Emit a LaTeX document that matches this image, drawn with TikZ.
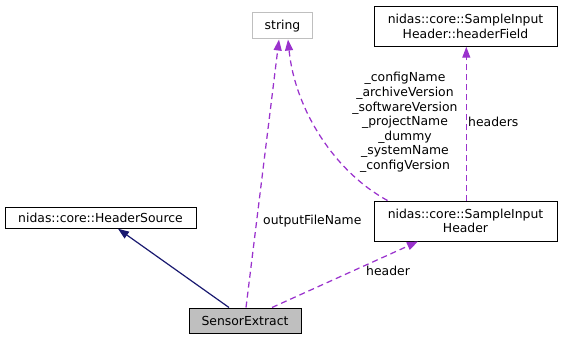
\documentclass[tikz,border=0pt]{standalone}
\usepackage{fontspec}
\setmainfont{DejaVu Sans}
\usetikzlibrary{arrows.meta}
\definecolor{edgepurple}{HTML}{9A32CD}
\definecolor{edgenavy}{HTML}{191970}
\definecolor{boxgray}{HTML}{BFBFBF}
\begin{document}
\begin{tikzpicture}[x=1pt,y=-1pt,
  font=\fontsize{12.4pt}{14.6pt}\selectfont,
  classbox/.style={draw=black,line width=1pt,inner sep=0pt,align=center},
  usage/.style={draw=edgepurple,line width=1.25pt,dash pattern=on 6pt off 4pt,
    -{Triangle[length=11pt,width=8pt]},fill=none},
  inherit/.style={draw=edgenavy,line width=1.2pt,
    -{Triangle[length=11pt,width=8pt]}},
  lbl/.style={inner sep=0pt,align=center}]
\useasboundingbox (0,0) rectangle (561,339);

% classes
\node[classbox,draw=boxgray,minimum width=59.5pt,minimum height=26pt] (str) at (282.5,26) {string};
\node[classbox,minimum width=183pt,minimum height=39.5pt] (hf) at (465.5,26.5) {nidas::core::SampleInput\\Header::headerField};
\node[classbox,minimum width=191pt,minimum height=20.5pt] (hs) at (100.5,218) {nidas::core::HeaderSource};
\node[classbox,minimum width=183pt,minimum height=40pt] (sih) at (465.5,221) {nidas::core::SampleInput\\Header};
\node[classbox,fill=boxgray,minimum width=112pt,minimum height=25pt] (se) at (245,320.5) {SensorExtract};

% inheritance
\draw[inherit] ([xshift=-16pt]se.north) -- ([xshift=17.5pt]hs.south);

% usage relations
\draw[usage] ([xshift=1pt]se.north) -- ([xshift=-3.5pt]str.south);
\draw[usage] ([xshift=27pt]se.north) -- ([xshift=-47.5pt]sih.south);
\draw[usage] ([xshift=14pt]sih.north west) .. controls (335,172) and (295,110) .. ([xshift=5.5pt]str.south);
\draw[usage] ([xshift=0.8pt]sih.north) -- ([xshift=0.8pt]hf.south);

% relation labels
\node[lbl,anchor=west] (lofn) at (263,221) {outputFileName};
\node[lbl,anchor=west] (lhdr) at (366,271) {header};
\node[lbl,anchor=west] (lhds) at (468,122) {headers};
\node[lbl] (lmem) at (405,122.5) {\_configName\\\_archiveVersion\\\_softwareVersion\\\_projectName\\\_dummy\\\_systemName\\\_configVersion};
\end{tikzpicture}
\end{document}
